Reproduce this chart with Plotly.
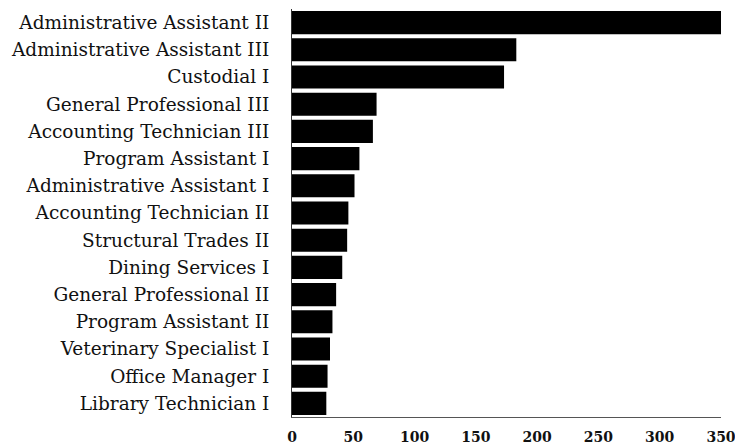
import plotly.graph_objects as go

categories = [
    "Administrative Assistant II",
    "Administrative Assistant III",
    "Custodial I",
    "General Professional III",
    "Accounting Technician III",
    "Program Assistant I",
    "Administrative Assistant I",
    "Accounting Technician II",
    "Structural Trades II",
    "Dining Services I",
    "General Professional II",
    "Program Assistant II",
    "Veterinary Specialist I",
    "Office Manager I",
    "Library Technician I",
]
counts = [350, 183, 173, 69, 66, 55, 51, 46, 45, 41, 36, 33, 31, 29, 28]
x_ticks = [0, 50, 100, 150, 200, 250, 300, 350]

fig = go.Figure(
    go.Bar(
        x=counts,
        y=categories,
        orientation="h",
        marker=dict(color="#000000", line=dict(width=0)),
        hoverinfo="skip",
    )
)

fig.update_layout(
    width=735,
    height=446,
    margin=dict(l=292, r=14, t=9, b=29, autoexpand=False),
    paper_bgcolor="white",
    plot_bgcolor="white",
    showlegend=False,
    bargap=0.15,
    font=dict(family="DejaVu Serif", color="#111111"),
)

fig.update_xaxes(
    range=[0, 350],
    tickvals=x_ticks,
    ticktext=[str(v) for v in x_ticks],
    showgrid=False,
    zeroline=False,
    showline=True,
    linecolor="#555555",
    linewidth=1,
    ticks="",
    ticklabeloverflow="allow",
    ticklabelstandoff=7,
    automargin=False,
    tickfont=dict(family="DejaVu Serif", size=14, color="#111111", weight="bold"),
)

fig.update_yaxes(
    categoryorder="array",
    categoryarray=categories[::-1],
    showgrid=False,
    zeroline=False,
    showline=True,
    linecolor="#333333",
    linewidth=1,
    ticks="",
    automargin=False,
    ticklabelstandoff=18,
    tickfont=dict(family="DejaVu Serif", size=18.5, color="#111111"),
)

fig.write_html(
    "out.html",
    config={"displayModeBar": False},
    post_script="document.body.style.margin='0';document.body.style.overflow='hidden';",
)
